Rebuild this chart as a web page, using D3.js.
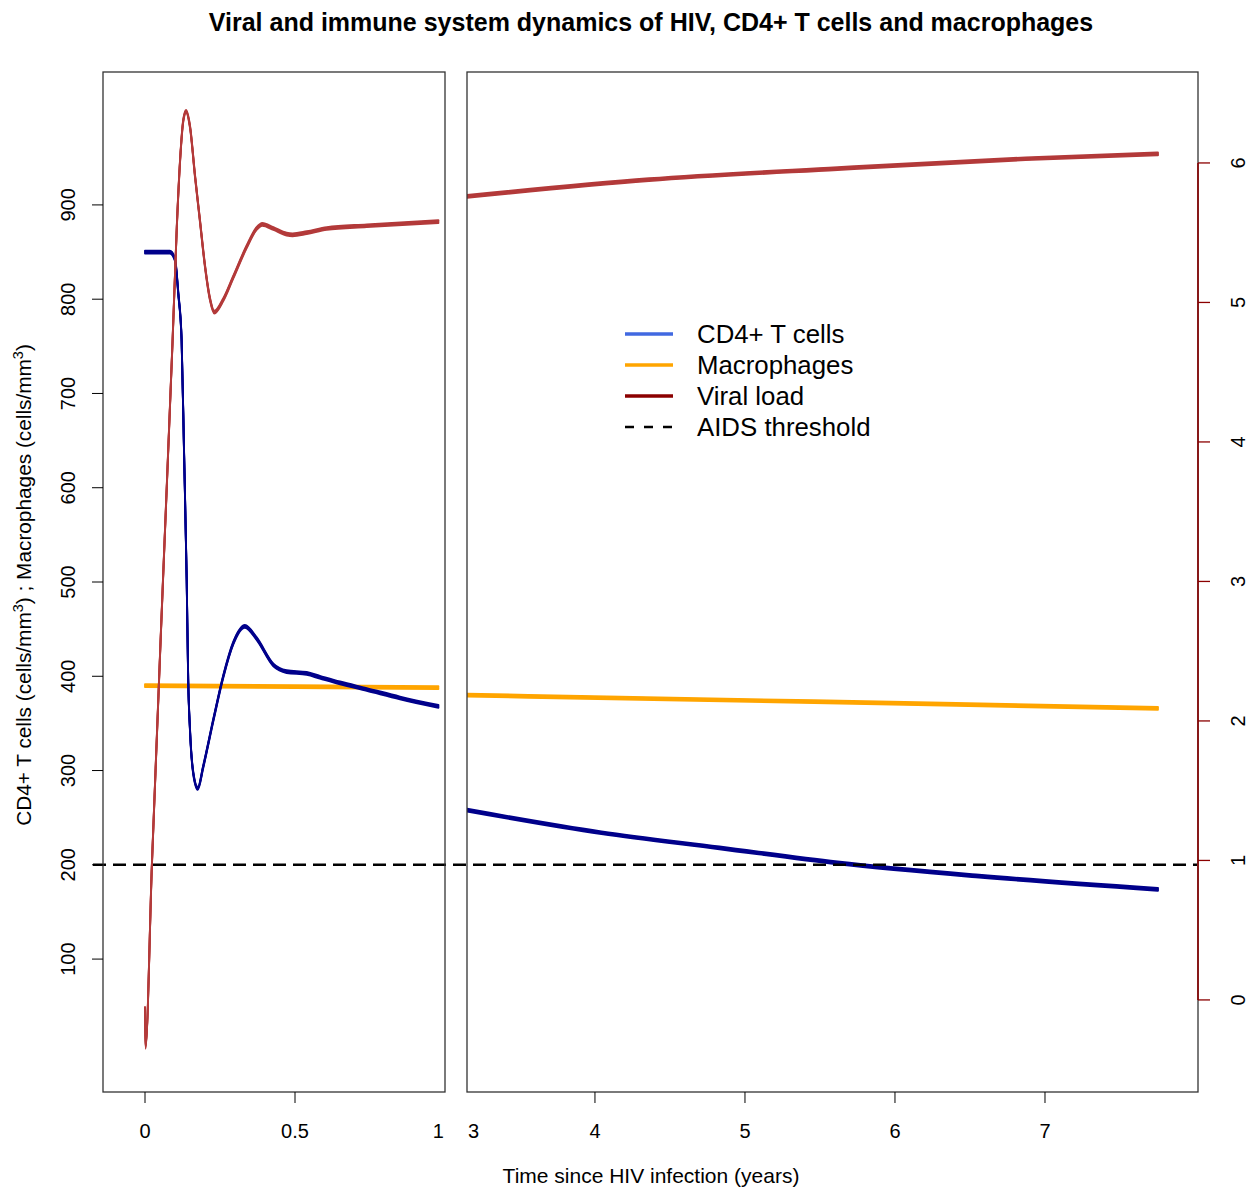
<!DOCTYPE html>
<html>
<head>
<meta charset="utf-8">
<script src="https://cdn.jsdelivr.net/npm/d3@7"></script>
<style>
  body { margin: 0; background: #fff; }
  text { font-family: "Liberation Sans", Arial, sans-serif; fill: #000; }
</style>
</head>
<body>
<div id="chart"></div>
<script>
// ---- data ----
// early phase, years 0..1 (left panel)
var tEarlyCD4 = [0, 0.083, 0.1, 0.111, 0.122, 0.13, 0.139, 0.144, 0.15, 0.161, 0.176, 0.194, 0.228, 0.261, 0.294, 0.333, 0.372, 0.428, 0.472, 0.539, 0.583, 0.65, 0.739, 0.85, 0.978];
var cd4Early  = [850, 850, 842, 806, 757, 640, 502, 396, 343, 297, 281, 304, 354, 400, 435, 453, 440, 412, 405, 403, 399, 393, 386, 377, 368];

var tEarlyMac = [0, 0.5, 0.978];
var macEarly  = [390, 389, 388];

var tEarlyVir = [0, 0.0015, 0.023, 0.06, 0.092, 0.106, 0.117, 0.128, 0.137, 0.15, 0.167, 0.183, 0.2, 0.217, 0.231, 0.261, 0.294, 0.339, 0.372, 0.391, 0.428, 0.472, 0.492, 0.539, 0.606, 0.739, 0.978];
var virEarly  = [-0.06, -0.34, 0.97, 3.01, 4.73, 5.54, 6.02, 6.31, 6.37, 6.26, 5.90, 5.59, 5.26, 5.02, 4.93, 5.02, 5.18, 5.40, 5.53, 5.56, 5.53, 5.49, 5.485, 5.50, 5.53, 5.55, 5.58];

// late phase, years 3..8 (right panel)
var tLateCD4 = [3.147, 4.043, 4.83, 5.617, 6.56, 7.753];
var cd4Late  = [258, 234, 218, 202, 188, 174];

var tLateMac = [3.147, 5.46, 7.753];
var macLate  = [380, 373, 366];

var tLateVir = [3.147, 4.36, 5.617, 6.87, 7.753];
var virLate  = [5.76, 5.88, 5.96, 6.03, 6.065];

var aidsThreshold = 200;

var leftTicks  = [100, 200, 300, 400, 500, 600, 700, 800, 900];
var rightTicks = [0, 1, 2, 3, 4, 5, 6];
var xTicksEarly = [0, 0.5];
var xTicksLate  = [4, 5, 6, 7];
var xLabelsEarly = [{v: 0, t: "0"}, {v: 0.5, t: "0.5"}, {v: 0.978, t: "1"}];
var xLabelsLate  = [{v: 3.19, t: "3"}, {v: 4, t: "4"}, {v: 5, t: "5"}, {v: 6, t: "6"}, {v: 7, t: "7"}];

var legendItems = [
  {label: "CD4+ T cells", color: "#4169e1", dash: null},
  {label: "Macrophages", color: "#ffa500", dash: null},
  {label: "Viral load", color: "#8b0000", dash: null},
  {label: "AIDS threshold", color: "#000", dash: "9,10"}
];

var colCD4 = "#00008b", colMac = "#ffa500", colVir = "#b33a3a", colAxisR = "#8b0000";

// ---- layout ----
var W = 1248, H = 1188;
var plotTop = 72, plotBottom = 1092;
var leftPanel = {x0: 103, x1: 445};
var rightPanel = {x0: 467, x1: 1198};

var xL = d3.scaleLinear().domain([-0.14, 1.0]).range([leftPanel.x0, leftPanel.x1]);
var xR = d3.scaleLinear().domain([3.147, 8.02]).range([rightPanel.x0, rightPanel.x1]);
var yL = d3.scaleLinear().domain([-41, 1041]).range([plotBottom, plotTop]);
var yR = d3.scaleLinear().domain([-0.66, 6.652]).range([plotBottom, plotTop]);

var svg = d3.select("#chart").append("svg")
    .attr("width", W)
    .attr("height", H);

var defs = svg.append("defs");
defs.append("clipPath").attr("id", "clipL").append("rect")
    .attr("x", leftPanel.x0).attr("y", plotTop)
    .attr("width", leftPanel.x1 - leftPanel.x0).attr("height", plotBottom - plotTop);
defs.append("clipPath").attr("id", "clipR").append("rect")
    .attr("x", rightPanel.x0).attr("y", plotTop)
    .attr("width", rightPanel.x1 - rightPanel.x0).attr("height", plotBottom - plotTop);

// title
svg.append("text")
    .attr("x", 651).attr("y", 31)
    .attr("text-anchor", "middle")
    .style("font-size", "25px").style("font-weight", "bold")
    .text("Viral and immune system dynamics of HIV, CD4+ T cells and macrophages");

// draws a series with a tall "pen": thin on steep parts, thick on flat parts
function drawSeries(g, xs, ys, xScale, yScale, color) {
  var pts = xs.map(function(t, i) { return [t, ys[i]]; });
  var line = d3.line()
      .x(function(d) { return xScale(d[0]); })
      .y(function(d) { return yScale(d[1]); })
      .curve(d3.curveMonotoneX);
  [-1.4, -0.5, 0.5, 1.4].forEach(function(dy) {
    g.append("path")
        .datum(pts)
        .attr("transform", "translate(0," + dy + ")")
        .attr("fill", "none")
        .attr("stroke", color)
        .attr("stroke-width", 1.9)
        .attr("stroke-linecap", "round")
        .attr("stroke-linejoin", "round")
        .attr("d", line);
  });
}

var gL = svg.append("g").attr("clip-path", "url(#clipL)");
drawSeries(gL, tEarlyMac, macEarly, xL, yL, colMac);
drawSeries(gL, tEarlyCD4, cd4Early, xL, yL, colCD4);
drawSeries(gL, tEarlyVir, virEarly, xL, yR, colVir);

var gR = svg.append("g").attr("clip-path", "url(#clipR)");
drawSeries(gR, tLateMac, macLate, xR, yL, colMac);
drawSeries(gR, tLateCD4, cd4Late, xR, yL, colCD4);
drawSeries(gR, tLateVir, virLate, xR, yR, colVir);

// AIDS threshold across both panels
svg.append("line")
    .attr("x1", 93).attr("x2", 1197)
    .attr("y1", yL(aidsThreshold)).attr("y2", yL(aidsThreshold))
    .attr("stroke", "#000")
    .attr("stroke-width", 2.6)
    .attr("stroke-dasharray", "13,7");

// panel boxes
[leftPanel, rightPanel].forEach(function(p) {
  svg.append("rect")
      .attr("x", p.x0).attr("y", plotTop)
      .attr("width", p.x1 - p.x0).attr("height", plotBottom - plotTop)
      .attr("fill", "none")
      .attr("stroke", "#333")
      .attr("stroke-width", 1.3);
});

// left y axis
var gyl = svg.append("g");
gyl.selectAll("line").data(leftTicks).enter().append("line")
    .attr("x1", leftPanel.x0 - 11).attr("x2", leftPanel.x0)
    .attr("y1", function(d) { return yL(d); }).attr("y2", function(d) { return yL(d); })
    .attr("stroke", "#000").attr("stroke-width", 1);
gyl.selectAll("text").data(leftTicks).enter().append("text")
    .attr("transform", function(d) { return "translate(75," + yL(d) + ") rotate(-90)"; })
    .attr("text-anchor", "middle")
    .style("font-size", "20px")
    .text(function(d) { return d; });

// right y axis (viral load)
var gyr = svg.append("g");
gyr.append("line")
    .attr("x1", rightPanel.x1).attr("x2", rightPanel.x1)
    .attr("y1", yR(0)).attr("y2", yR(6))
    .attr("stroke", colAxisR).attr("stroke-width", 1.6);
gyr.selectAll("line.tick").data(rightTicks).enter().append("line")
    .attr("class", "tick")
    .attr("x1", rightPanel.x1).attr("x2", rightPanel.x1 + 12)
    .attr("y1", function(d) { return yR(d); }).attr("y2", function(d) { return yR(d); })
    .attr("stroke", colAxisR).attr("stroke-width", 1.3);
gyr.selectAll("text").data(rightTicks).enter().append("text")
    .attr("transform", function(d) { return "translate(1245," + yR(d) + ") rotate(-90)"; })
    .attr("text-anchor", "middle")
    .style("font-size", "20px")
    .text(function(d) { return d; });

// x axes
var gx = svg.append("g");
gx.selectAll("line.e").data(xTicksEarly).enter().append("line")
    .attr("class", "e")
    .attr("x1", function(d) { return xL(d); }).attr("x2", function(d) { return xL(d); })
    .attr("y1", plotBottom).attr("y2", plotBottom + 11)
    .attr("stroke", "#000");
gx.selectAll("line.l").data(xTicksLate).enter().append("line")
    .attr("class", "l")
    .attr("x1", function(d) { return xR(d); }).attr("x2", function(d) { return xR(d); })
    .attr("y1", plotBottom).attr("y2", plotBottom + 11)
    .attr("stroke", "#000");
gx.selectAll("text.e").data(xLabelsEarly).enter().append("text")
    .attr("class", "e")
    .attr("x", function(d) { return xL(d.v); }).attr("y", 1138)
    .attr("text-anchor", "middle")
    .style("font-size", "20px")
    .text(function(d) { return d.t; });
gx.selectAll("text.l").data(xLabelsLate).enter().append("text")
    .attr("class", "l")
    .attr("x", function(d) { return xR(d.v); }).attr("y", 1138)
    .attr("text-anchor", "middle")
    .style("font-size", "20px")
    .text(function(d) { return d.t; });

// axis titles
svg.append("text")
    .attr("x", 651).attr("y", 1183)
    .attr("text-anchor", "middle")
    .style("font-size", "21px")
    .text("Time since HIV infection (years)");

var yt = svg.append("text")
    .attr("transform", "translate(31,585) rotate(-90)")
    .attr("text-anchor", "middle")
    .style("font-size", "20.8px");
yt.append("tspan").text("CD4+ T cells (cells/mm");
yt.append("tspan").attr("dy", -8).style("font-size", "14.5px").text("3");
yt.append("tspan").attr("dy", 8).text(") ; Macrophages (cells/mm");
yt.append("tspan").attr("dy", -8).style("font-size", "14.5px").text("3");
yt.append("tspan").attr("dy", 8).text(")");

// legend
var lg = svg.append("g").attr("transform", "translate(625,334)");
var rows = lg.selectAll("g").data(legendItems).enter().append("g")
    .attr("transform", function(d, i) { return "translate(0," + (i * 31) + ")"; });
rows.append("line")
    .attr("x1", 0).attr("x2", 48)
    .attr("stroke", function(d) { return d.color; })
    .attr("stroke-width", function(d) { return d.dash ? 2.6 : 3.6; })
    .attr("stroke-dasharray", function(d) { return d.dash; });
rows.append("text")
    .attr("x", 72).attr("y", 9)
    .style("font-size", "25.8px")
    .text(function(d) { return d.label; });
</script>
</body>
</html>
